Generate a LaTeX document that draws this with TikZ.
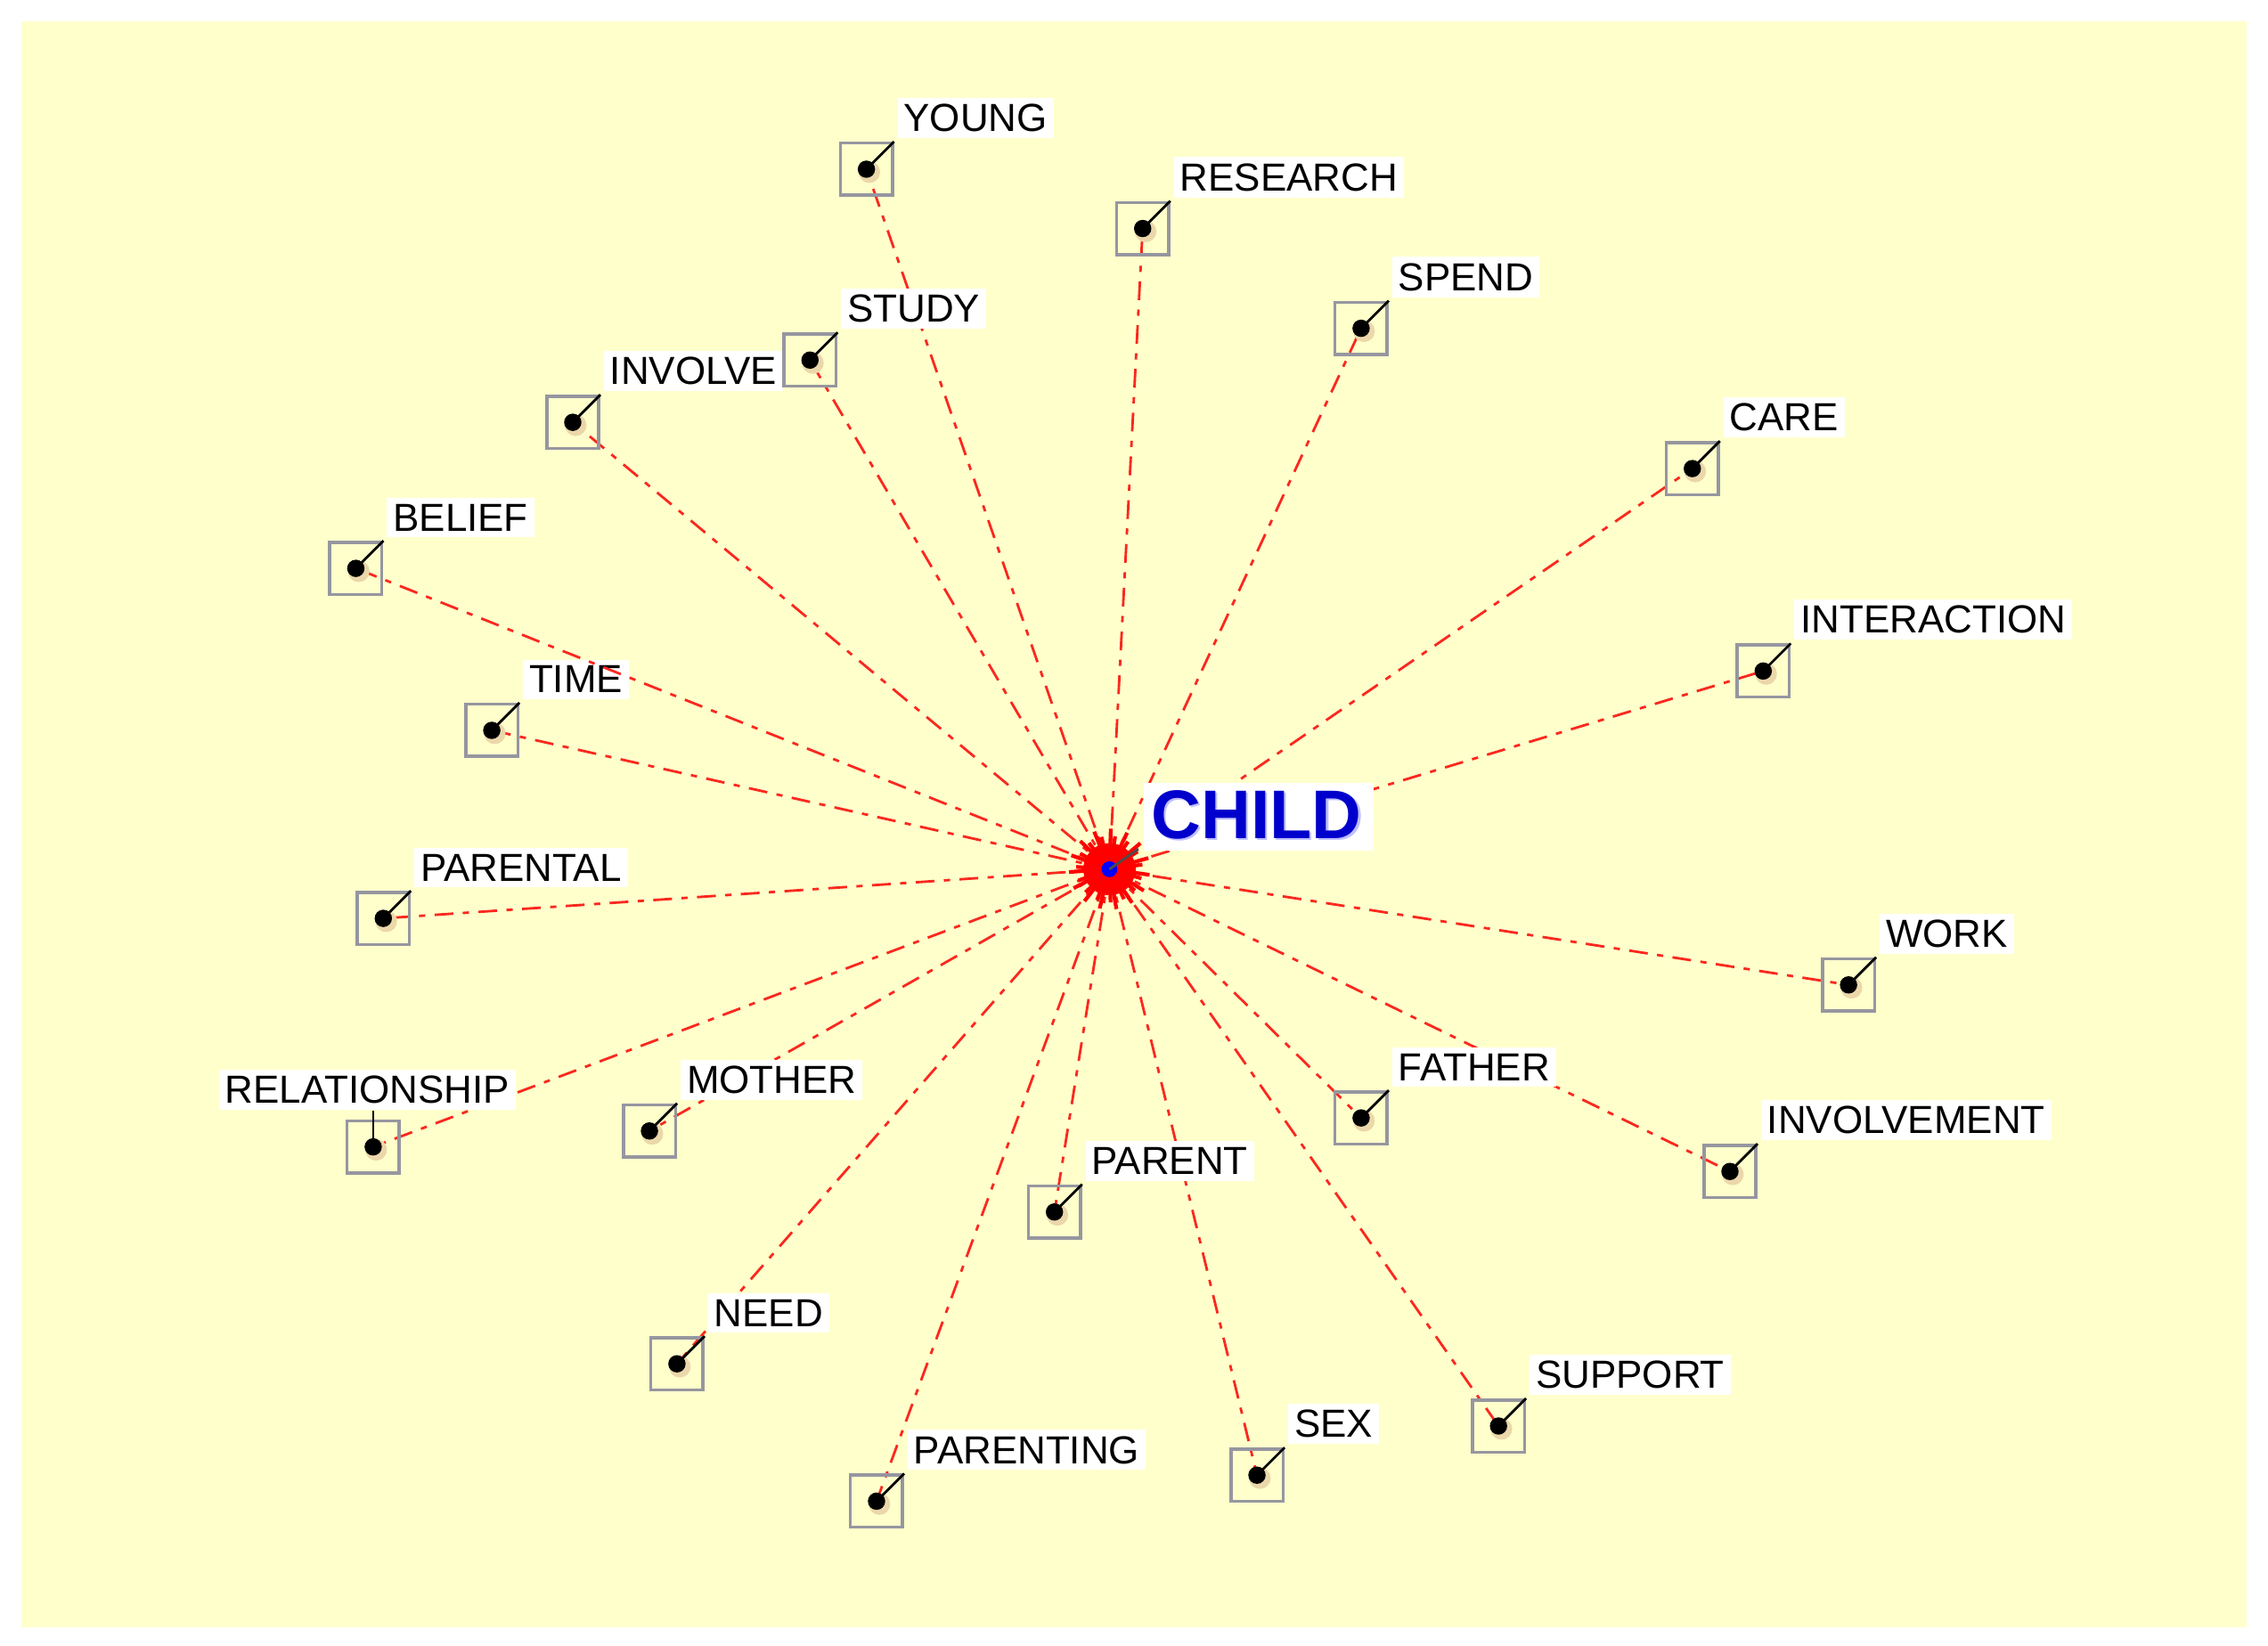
\documentclass[tikz,border=0pt]{standalone}
\usepackage{fontspec}
\setmainfont{Liberation Sans}
\usetikzlibrary{calc}
\definecolor{bgy}{RGB}{255,255,204}
\definecolor{edgered}{RGB}{250,40,30}
\definecolor{boxgray}{RGB}{150,150,160}
\definecolor{halo}{RGB}{235,215,170}
\begin{document}
\begin{tikzpicture}[x=0.016237cm,y=-0.016237cm,
  edge/.style={draw=edgered,line width=0.8pt,dash pattern=on 6pt off 3pt on 2pt off 3pt},
  box/.style={draw=boxgray,line width=1pt,minimum size=0.585cm,inner sep=0pt,fill=none},
  lab/.style={fill=white,inner sep=2pt,font=\fontsize{12.5}{14}\selectfont,text=black,anchor=south west},
]
\useasboundingbox (0,0) rectangle (1568,1138);
\fill[white] (0,0) rectangle (1568,1138);
\fill[bgy] (15,15) rectangle (1553,1125);
\coordinate (c) at (767,601);
\foreach \n/\x/\y/\t in {young/599/117/YOUNG, research/790/158/RESEARCH, spend/941/227/SPEND,
  care/1170/324/CARE, interaction/1219/464/INTERACTION, work/1278/681/WORK,
  involvement/1196/810/INVOLVEMENT, father/941/773/FATHER, support/1036/986/SUPPORT,
  sex/869/1020/SEX, parent/729/838/PARENT, parenting/606/1038/PARENTING,
  need/468/943/NEED, mother/449/782/MOTHER, parental/265/635/PARENTAL,
  time/340/505/TIME, belief/246/393/BELIEF, involve/396/292/INVOLVE, study/560/249/STUDY}{
  \coordinate (\n) at (\x,\y);
  \draw[edge] (c) -- (\n);
  \fill[halo] ($(\n)+(2,2)$) circle (7.5);
  \fill[black] (\n) circle (6);
  \node[box] (\n b) at (\n) {};
  \draw[black,line width=0.8pt] (\n) -- (\n b.north east);
  \node[lab] (\n l) at ($(\n b.north east)+(2,-2)$) {\t};
}
\coordinate (relationship) at (258,793);
\draw[edge] (c) -- (relationship);
\fill[halo] ($(relationship)+(2,2)$) circle (7.5);
\fill[black] (relationship) circle (6);
\node[box] (relationship b) at (relationship) {};
\draw[black,line width=0.8pt] (relationship) -- ++(0,-25) coordinate (relationship t);
\node[fill=white,inner sep=2pt,font=\fontsize{12.5}{14}\selectfont,anchor=south] (relationship l) at ($(relationship t)+(-4,0)$) {RELATIONSHIP};
% central starburst
\foreach \a in {0,8,...,359}{
  \draw[red,line width=1.2pt] (c) -- ++(\a:{18+5*mod(\a,3)});
}
\fill[blue] (c) circle (5.5);
\draw[black!70,line width=0.8pt] (c) -- ++(20,-14) coordinate (ct);
\node[fill=white,inner sep=3pt,anchor=south west] (childsh) at ($(ct)+(3.5,1.5)$)
  {\fontsize{22}{24}\selectfont\bfseries\color{blue!25}CHILD};
\node[inner sep=3pt,anchor=south west,text=blue!80!black] (child) at ($(ct)+(2,0)$)
  {\fontsize{22}{24}\selectfont\bfseries CHILD};
\end{tikzpicture}
\end{document}
